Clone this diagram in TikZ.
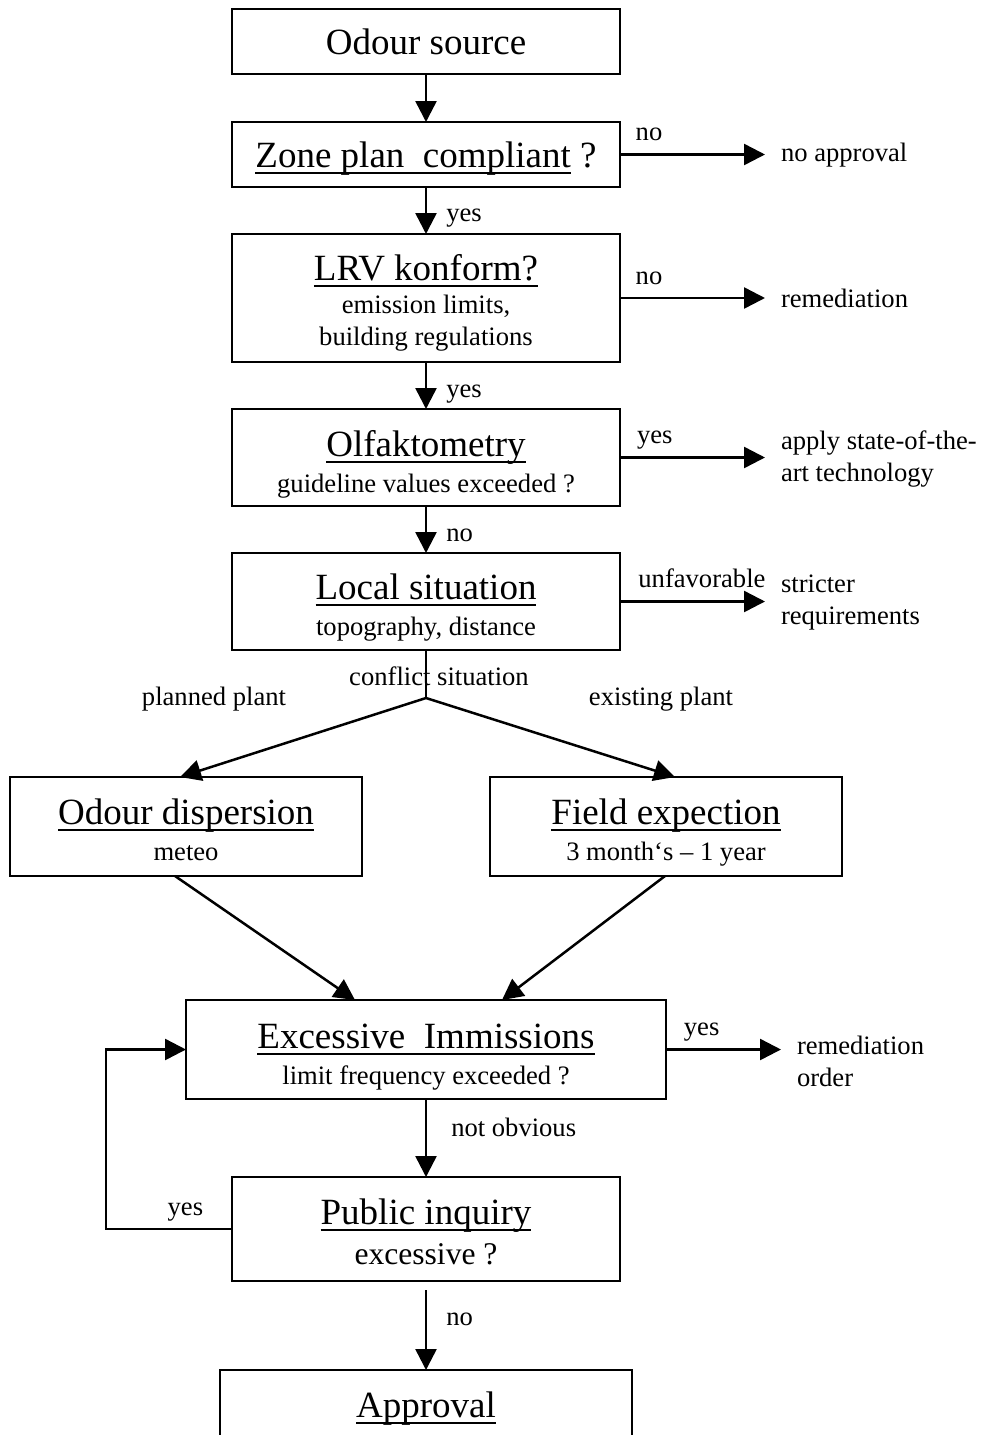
\documentclass[tikz,border=0pt]{standalone}
\usepackage{fontspec}
\setmainfont{Liberation Serif}
\usetikzlibrary{arrows.meta,positioning,calc}
\newlength{\px}
\setlength{\px}{0.5pt}
\newcommand{\hd}{\fontsize{18.5pt}{22pt}\selectfont}
\newcommand{\md}{\fontsize{15.8pt}{19pt}\selectfont}
\newcommand{\sz}{\fontsize{13.3pt}{16pt}\selectfont}
\newcommand{\undl}[1]{\setbox0\hbox{#1}\rlap{\rule[-3.2pt]{\wd0}{1pt}}\box0\relax}
\newcommand{\lift}[2][0pt]{\raisebox{0pt}[\dimexpr\height+#1\relax][\depth]{#2}}

\begin{document}
\begin{tikzpicture}
    [   x=\px, y=-\px,
        > = {Triangle[length=10.5pt,width=10.5pt]},
        line width=1.25pt,
        box/.style = {draw, inner sep=0pt, outer sep=0pt, align=center, font=\sz},
        lbl/.style = {font=\sz, inner sep=0pt},
        sidelbl/.style = {lbl, anchor=base, yshift=7pt},
        sidetxt/.style = {lbl, anchor=west, outer xsep=8pt, align=left}
    ]
    \useasboundingbox (0,0) rectangle (981,1435);
    % Main column
    \node[box, minimum width=388\px, minimum height=65\px]  (source) at (426,41.5)  {\hd Odour source};
    \node[box, minimum width=388\px, minimum height=65\px]  (zone)   at (426,154.5) {\lift[4pt]{\hd\undl{Zone plan\ \ compliant} ?}};
    \node[box, minimum width=388\px, minimum height=128\px] (lrv)    at (426,298)   {\lift[5pt]{\hd\undl{LRV konform?}}\\[0.5pt] emission limits,\\ building regulations};
    \node[box, minimum width=388\px, minimum height=97\px]  (olf)    at (426,457.5) {\lift[7pt]{\hd\undl{Olfaktometry}}\\[2pt] guideline values exceeded ?};
    \node[box, minimum width=388\px, minimum height=97\px]  (local)  at (426,601.5) {\lift[6pt]{\hd\undl{Local situation}}\\[2pt] topography, distance};
    % Two branches
    \node[box, minimum width=352\px, minimum height=99\px]  (disp)   at (186,826.5) {\lift[3pt]{\hd\undl{Odour dispersion}}\\[2pt] meteo};
    \node[box, minimum width=352\px, minimum height=99\px]  (field)  at (666,826.5) {\lift[6pt]{\hd\undl{Field expection}}\\[2pt] 3 month‘s – 1 year};
    % Assessment
    \node[box, minimum width=480\px, minimum height=99\px]  (exc)    at (426,1049.5) {\lift[7.5pt]{\hd\undl{Excessive\ \ Immissions}}\\[2pt] limit frequency exceeded ?};
    \node[box, minimum width=388\px, minimum height=104\px] (pub)    at (426,1229)  {\lift[2.5pt]{\hd\undl{Public inquiry}}\\[4pt] {\md excessive ?}};
    \node[box, minimum width=412\px, minimum height=70\px]  (appr)   at (426,1405)  {\lift[4pt]{\hd\undl{Approval}}};
    % Outcomes on the right
    \node[sidetxt] (noappr) at (765,155)  {no approval};
    \node[sidetxt] (remed)  at (765,298)  {remediation};
    \node[sidetxt] (sota)   at (765,459)  {apply state-of-the-\\art technology};
    \node[sidetxt] (strict) at (765,603)  {stricter\\requirements};
    \node[sidetxt] (remord) at (781,1061) {remediation\\order};
    % Main flow
    \draw[->] (source) -- (zone);
    \draw[->] (zone) -- node[lbl, pos=.67, right=19\px] {yes} (lrv);
    \draw[->] (lrv) -- node[lbl, pos=.69, right=19\px] {yes} (olf);
    \draw[->] (olf) -- node[lbl, pos=.63, right=19\px] {no} (local);
    \draw[->] (exc) -- node[lbl, pos=.37, right=24\px] {not obvious} (pub);
    \draw[->, shorten <=9\px] (pub) -- node[lbl, pos=.43, right=19\px] {no} (appr);
    % Side exits
    \draw[->] (zone.east)  -- node[sidelbl, pos=.2]   {no}  (zone.east -| noappr.west);
    \draw[->] (lrv.east)   -- node[sidelbl, pos=.2]   {no}  (lrv.east -| remed.west);
    \draw[->] (olf.east)   -- node[sidelbl, pos=.24]  {yes} (olf.east -| sota.west);
    \draw[->] (local.east) -- node[sidelbl, pos=.565] {unfavorable} (local.east -| strict.west);
    \draw[->] (exc.east)   -- node[sidelbl, pos=.31]  {yes} (exc.east -| remord.west);
    % Conflict split
    \coordinate (split) at (426,698);
    \draw (local) -- node[lbl, pos=.54, xshift=13\px] {conflict situation} (split);
    \node[lbl] (planned)  at (214,699) {planned plant};
    \node[lbl] (existing) at (661,699) {existing plant};
    \draw[->] (split) -- ([xshift=-6\px]disp.north);
    \draw[->] (split) -- ([xshift=9\px]field.north);
    \draw[->] ([xshift=-11\px]disp.south) -- ([xshift=-71\px]exc.north);
    \draw[->] ([xshift=-1\px]field.south) -- ([xshift=76\px]exc.north);
    % Loop back
    \coordinate (back) at (106,1225);
    \draw[->] (pub.west) -- node[sidelbl, pos=.37] {yes} (pub.west -| back) |- (exc.west);
\end{tikzpicture}
\end{document}
